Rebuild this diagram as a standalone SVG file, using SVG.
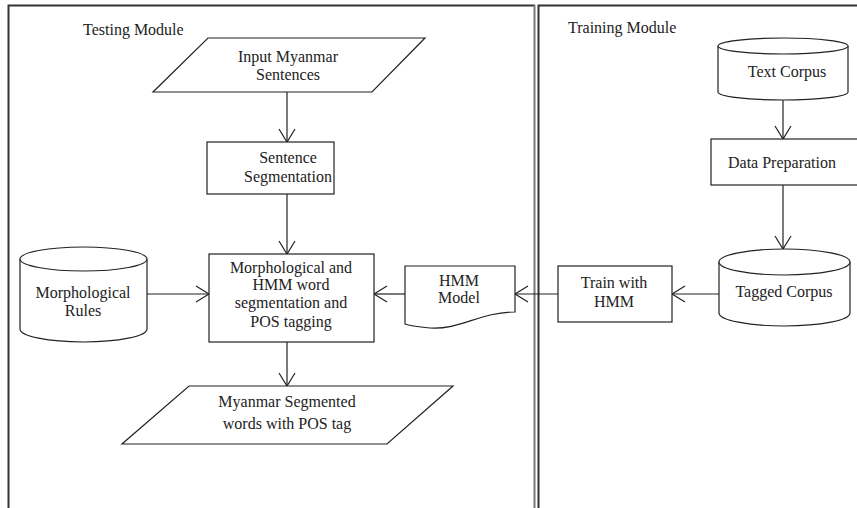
<svg xmlns="http://www.w3.org/2000/svg" width="857" height="508" viewBox="0 0 857 508">
<style>
.sh{fill:#fff;stroke:#222;stroke-width:1.2}
.t{font-family:"Liberation Serif","Times New Roman",serif;font-size:16px;fill:#222;text-anchor:middle}
.tl{font-family:"Liberation Serif","Times New Roman",serif;font-size:16px;fill:#222}
.c{stroke:#222;stroke-width:1.2;fill:none}
</style>
<defs>
<marker id="ah" markerUnits="userSpaceOnUse" markerWidth="16" markerHeight="18" viewBox="0 0 16 18" refX="14" refY="9" orient="auto">
<path d="M1,1 L14,9 L1,17" fill="none" stroke="#222" stroke-width="1.2"/>
</marker>
</defs>
<rect width="857" height="508" fill="#fff"/>
<g id="testing-panel">
<path d="M8.5,520 V5.5 H535" fill="none" stroke="#333" stroke-width="2"/>
<line x1="534.5" y1="5" x2="534.5" y2="520" stroke="#777" stroke-width="2"/>
<text class="tl" x="83" y="35">Testing Module</text>
</g>
<g id="training-panel">
<path d="M538.5,520 V5.5 H870" fill="none" stroke="#333" stroke-width="2"/>
<text class="tl" x="568" y="33">Training Module</text>
</g>
<g id="connectors">
<line class="c" x1="287" y1="92" x2="287" y2="142" marker-end="url(#ah)"/>
<line class="c" x1="287" y1="194" x2="287" y2="254" marker-end="url(#ah)"/>
<line class="c" x1="147" y1="294" x2="209" y2="294" marker-end="url(#ah)"/>
<line class="c" x1="405" y1="294" x2="374" y2="294" marker-end="url(#ah)"/>
<line class="c" x1="558" y1="294" x2="515" y2="294" marker-end="url(#ah)"/>
<line class="c" x1="719" y1="294" x2="672" y2="294" marker-end="url(#ah)"/>
<line class="c" x1="287" y1="342" x2="287" y2="386" marker-end="url(#ah)"/>
<line class="c" x1="783" y1="100" x2="783" y2="139" marker-end="url(#ah)"/>
<line class="c" x1="783" y1="185" x2="783" y2="249" marker-end="url(#ah)"/>
</g>
<g id="input">
<polygon class="sh" points="208,38 425,38 372,92 153,92"/>
<text class="t" x="288" y="62">Input Myanmar</text>
<text class="t" x="288" y="80">Sentences</text>
</g>
<g id="sentence-seg">
<rect class="sh" x="207" y="142" width="127" height="52"/>
<text class="t" x="288" y="163">Sentence</text>
<text class="t" x="288" y="182">Segmentation</text>
</g>
<g id="morph-rules">
<path class="sh" d="M20,259 V329 A63.5,13 0 0 0 147,329 V259"/>
<ellipse class="sh" cx="83.5" cy="259" rx="63.5" ry="12"/>
<text class="t" x="83" y="298">Morphological</text>
<text class="t" x="83" y="316">Rules</text>
</g>
<g id="morph-hmm">
<rect class="sh" x="209" y="254" width="165" height="88"/>
<text class="t" x="291" y="273">Morphological and</text>
<text class="t" x="291" y="290">HMM word</text>
<text class="t" x="291" y="308">segmentation and</text>
<text class="t" x="291" y="327">POS tagging</text>
</g>
<g id="output">
<polygon class="sh" points="189,386 453,386 387,444 122,444"/>
<text class="t" x="287" y="407">Myanmar Segmented</text>
<text class="t" x="287" y="429">words with POS tag</text>
</g>
<g id="hmm-model">
<path class="sh" d="M405,266 H515 V312 C480,312 460,330 430,328 C420,327 410,326 405,324 Z"/>
<text class="t" x="459" y="286">HMM</text>
<text class="t" x="459" y="303">Model</text>
</g>
<g id="train-hmm">
<rect class="sh" x="558" y="266" width="114" height="56"/>
<text class="t" x="614" y="288">Train with</text>
<text class="t" x="614" y="307">HMM</text>
</g>
<g id="tagged-corpus">
<path class="sh" d="M719,262 V313 A65.5,13 0 0 0 850,313 V262"/>
<ellipse class="sh" cx="784.5" cy="262" rx="65.5" ry="13"/>
<text class="t" x="784" y="297">Tagged Corpus</text>
</g>
<g id="text-corpus">
<path class="sh" d="M718,46 V92 A65,8 0 0 0 848,92 V46"/>
<ellipse class="sh" cx="783" cy="46" rx="65" ry="8"/>
<text class="t" x="787" y="77">Text Corpus</text>
</g>
<g id="data-prep">
<rect class="sh" x="711" y="139" width="160" height="46"/>
<text class="tl" x="728" y="168">Data Preparation</text>
</g>
</svg>
